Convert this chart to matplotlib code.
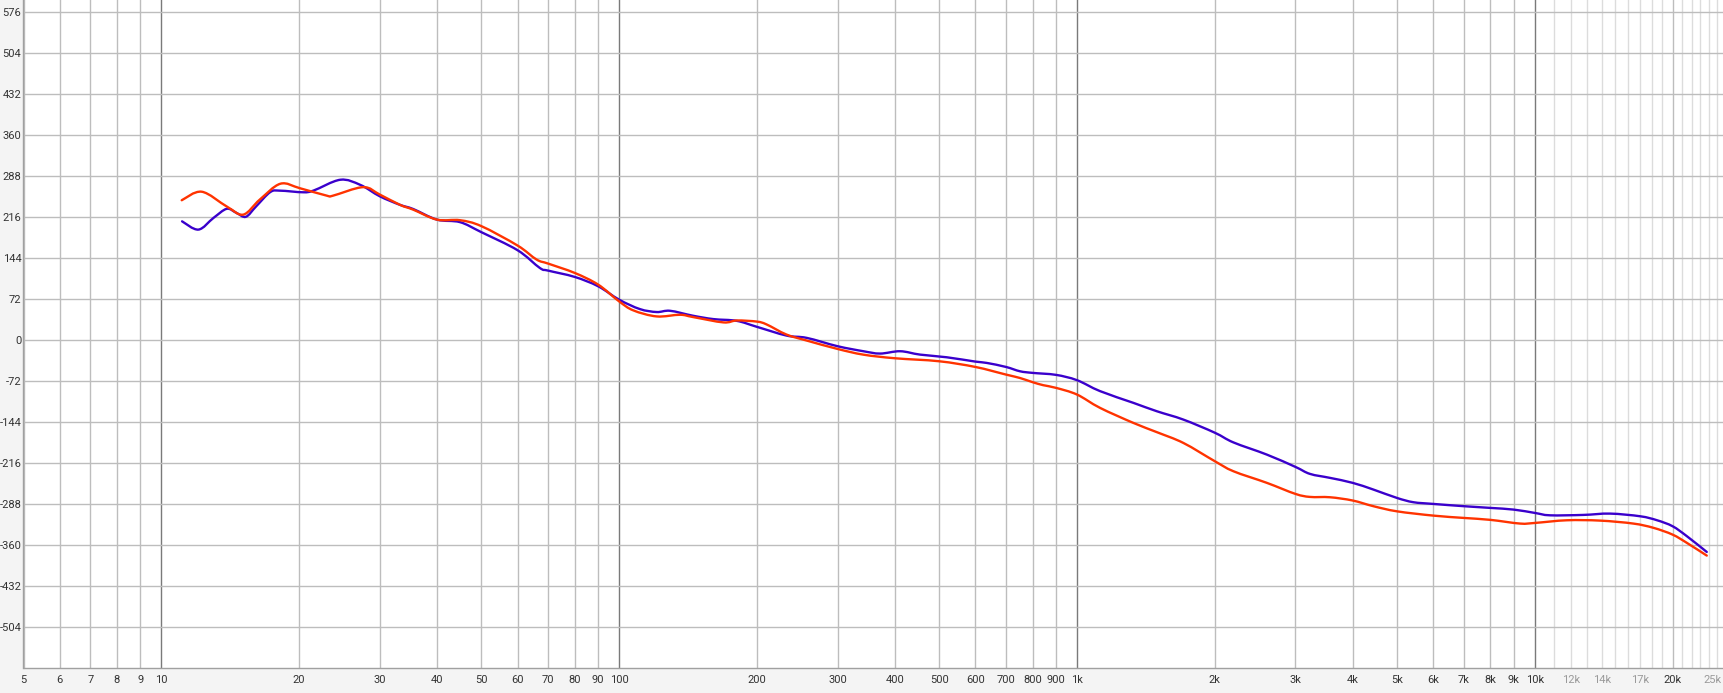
import matplotlib
matplotlib.use("Agg")
import numpy as np
import matplotlib.pyplot as plt
import matplotlib.transforms as mtransforms
from matplotlib.path import Path
from matplotlib.patches import PathPatch
from matplotlib.ticker import NullLocator

plt.rcParams['font.family'] = ['Roboto', 'DejaVu Sans']
plt.rcParams['axes.unicode_minus'] = False

# ---- data ----
blue_freq = [11.1, 12.05, 13.0, 13.9, 14.6, 15.3, 16.1, 17.3, 18.2, 20.4, 21.5, 24.6, 27.2, 30,
             33.2, 35.5, 40, 44.9, 50, 60, 67.1, 70, 80, 90, 100, 111, 120.8, 129.2, 145, 160.7,
             180.7, 200, 232, 257, 300, 341.6, 371.5, 411, 454, 519.5, 600, 635, 700, 751, 800,
             900, 1000, 1123, 1328, 1494, 1708, 2000, 2196, 2598, 3000, 3228, 3571, 4000, 4441,
             5000, 5430, 6000, 7000, 8000, 9000, 10000, 10800, 12770, 14600, 17000, 18500, 20000,
             21500, 23750]
blue_val = [208, 193.5, 214, 230, 222.7, 216, 234, 259.4, 261.8, 259, 262, 281, 272, 252,
            237, 229.6, 211, 206.6, 189, 157.3, 126.2, 121.5, 110.4, 94, 70.5, 54, 48.8, 51, 42.3, 36.4,
            33.3, 22.8, 7.5, 3.4, -11.2, -20, -24.1, -20, -25.9, -30.6, -38.2, -40.5, -47.6, -55.2, -58,
            -61.5, -70.8, -90, -110.6, -125.3, -140, -163, -180, -201.4, -223, -235.3, -242.3, -251, -262.8,
            -277.5, -285, -288, -292, -295, -298, -303.8, -308, -307.3, -305, -309.7, -316.7, -327.2,
            -344.8, -372.3]

red_freq = [11.08, 12.25, 13.9, 15.1, 16.4, 18.2, 20.1, 23.0, 23.7, 27.6, 30, 33.2, 35.5, 40,
            44.9, 50, 60, 66, 70, 80, 90, 100, 107.4, 120.8, 135.8, 145, 169, 180.7, 200, 210,
            232, 257, 300, 341.6, 400, 500, 600, 700, 751, 800, 844, 900, 1000, 1123, 1328, 1494,
            1708, 2000, 2196, 2598, 3000, 3228, 3571, 4000, 4441, 5000, 6000, 7000, 8000, 9290,
            10000, 11750, 13890, 16420, 18170, 20000, 21500, 23750]
red_val = [245, 260, 234, 219.8, 246, 274, 266, 253, 253, 268, 255, 237, 228.5, 211,
           210, 199.6, 165.5, 141, 133.8, 117.4, 96.9, 67.5, 51.7, 41.1, 44, 40, 30.6, 34, 32, 27,
           9.3, -1.3, -16, -26, -32.3, -37.6, -47.6, -61, -67, -74.3, -79.6, -84.3, -96, -119.4, -145.8, -162,
           -181, -213, -230.6, -251, -270.4, -275.7, -276.3, -282, -292, -301, -308.5, -312.6, -316, -322.5,
           -321.4, -316.7, -317.3, -322.5, -330, -341.9, -356.5, -378.7]

x_ticks = [5, 6, 7, 8, 9, 10, 20, 30, 40, 50, 60, 70, 80, 90, 100, 200, 300, 400, 500, 600, 700,
           800, 900, 1000, 2000, 3000, 4000, 5000, 6000, 7000, 8000, 9000, 10000, 12000, 14000,
           17000, 20000, 25000]
x_labels = ['5', '6', '7', '8', '9', '10', '20', '30', '40', '50', '60', '70', '80', '90', '100',
            '200', '300', '400', '500', '600', '700', '800', '900', '1k', '2k', '3k', '4k', '5k',
            '6k', '7k', '8k', '9k', '10k', '12k', '14k', '17k', '20k', '25k']
x_muted = ['12k', '14k', '17k', '25k']
y_ticks = [576, 504, 432, 360, 288, 216, 144, 72, 0, -72, -144, -216, -288, -360, -432, -504]


def smooth_path(freqs, vals):
    """Smooth line through the measured points (Bezier segments, drawn in log-x space)."""
    lx = np.log10(np.asarray(freqs, float))
    y = np.asarray(vals, float)
    P = np.column_stack([lx, y])
    Pext = np.vstack([P[0], P, P[-1]])
    verts = [P[0]]
    codes = [Path.MOVETO]
    for i in range(len(P) - 1):
        p0, p1, p2, p3 = Pext[i], Pext[i + 1], Pext[i + 2], Pext[i + 3]
        c1 = p1 + (p2 - p0) / 6.0
        c2 = p2 - (p3 - p1) / 6.0
        verts += [c1, c2, p2]
        codes += [Path.CURVE4] * 3
    verts = np.array(verts)
    verts[:, 0] = 10 ** verts[:, 0]
    return Path(verts, codes)


# ---- figure ----
W, H = 1724, 693
fig = plt.figure(figsize=(W / 100, H / 100), dpi=100, facecolor='#f4f4f4')
ax = fig.add_axes([23.5 / W, 25 / H, 1 - 23.5 / W, 1 - 25 / H])
ax.set_facecolor('white')
ax.set_xscale('log')
ax.set_xlim(5, 25900)
ax.set_ylim(-576, 596.5)

# grid lines
grid_major = '#bdbdbd'
grid_decade = '#7a7a7a'
grid_light = '#dcdcdc'
for dec in [1, 10, 100, 1000]:
    for m in range(1, 10):
        f = m * dec
        if f < 5:
            continue
        c = grid_decade if m == 1 else grid_major
        ax.axvline(f, color=c, lw=1.0, zorder=1)
ax.axvline(10000, color=grid_decade, lw=1.0, zorder=1)
for k in range(11, 26):
    f = k * 1000
    ax.axvline(f, color=grid_major if k == 20 else grid_light, lw=1.0, zorder=1)
for v in y_ticks:
    ax.axhline(v, color=grid_major, lw=1.0, zorder=1)

for fr, vl, col, z in [(blue_freq, blue_val, '#3a00cc', 3), (red_freq, red_val, '#ff3300', 4)]:
    ax.add_patch(PathPatch(smooth_path(fr, vl), facecolor='none', edgecolor=col,
                           lw=1.7, zorder=z, joinstyle='round', capstyle='round'))

ax.xaxis.set_minor_locator(NullLocator())
ax.set_xticks(x_ticks)
ax.set_xticklabels(x_labels)
ax.set_yticks(y_ticks)
ax.set_yticklabels([str(v) for v in y_ticks])
ax.tick_params(axis='both', length=0, labelsize=8, labelcolor='#333333')
ax.tick_params(axis='x', pad=5)
ax.tick_params(axis='y', pad=1.5)
for lab in ax.get_xticklabels():
    if lab.get_text() in x_muted:
        lab.set_color('#9a9a9a')
    if lab.get_text() == '25k':
        lab.set_horizontalalignment('right')
        lab.set_transform(lab.get_transform() +
                          mtransforms.ScaledTranslation(5 / 100, 0, fig.dpi_scale_trans))

for s in ['top', 'right']:
    ax.spines[s].set_visible(False)
for s in ['left', 'bottom']:
    ax.spines[s].set_color('#a0a0a0')
    ax.spines[s].set_linewidth(1.0)

fig.savefig('out.png', dpi=100, facecolor=fig.get_facecolor())
